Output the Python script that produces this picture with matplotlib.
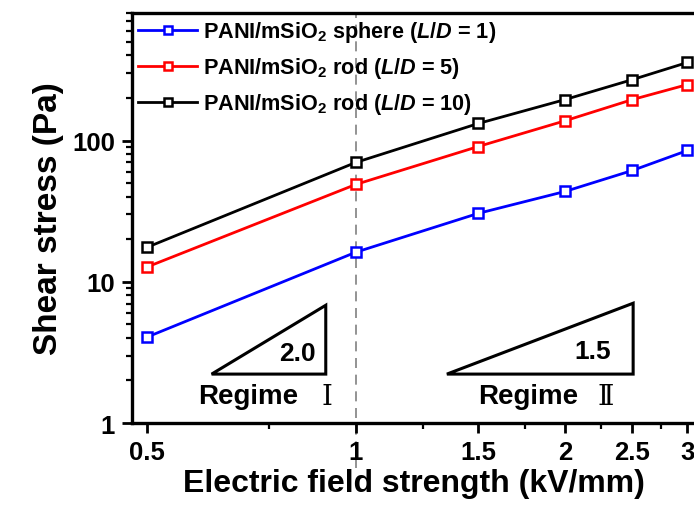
import matplotlib
matplotlib.use("Agg")
import matplotlib.pyplot as plt
from matplotlib.ticker import FixedLocator, NullFormatter, LogLocator
from matplotlib.patches import Polygon

plt.rcParams['font.family'] = ['Liberation Sans', 'Noto Sans CJK SC', 'DejaVu Sans']
plt.rcParams['font.weight'] = 'bold'
plt.rcParams['mathtext.fontset'] = 'custom'
plt.rcParams['mathtext.rm'] = 'Liberation Sans:bold'
plt.rcParams['mathtext.bf'] = 'Liberation Sans:bold'
plt.rcParams['mathtext.it'] = 'Liberation Sans:italic:bold'

# data
field = [0.5, 1.0, 1.5, 2.0, 2.5, 3.0]
sphere = [4.05, 16.2, 30.5, 43.6, 61.4, 85.0]
rod5 = [12.7, 48.9, 90.7, 138.0, 195.0, 249.0]
rod10 = [17.5, 70.0, 132.0, 195.0, 270.0, 357.0]

labels = [r"PANI/mSiO$_2$ sphere ($\mathit{L}$/$\mathit{D}$ = 1)",
          r"PANI/mSiO$_2$ rod ($\mathit{L}$/$\mathit{D}$ = 5)",
          r"PANI/mSiO$_2$ rod ($\mathit{L}$/$\mathit{D}$ = 10)"]
colors = ['#0000ff', '#ff0000', '#000000']

x_major = [0.5, 1, 1.5, 2, 2.5, 3]
x_major_labels = ['0.5', '1', '1.5', '2', '2.5', '3']
x_minor = [0.75, 1.25, 1.75, 2.25, 2.75]

fig = plt.figure(figsize=(6.94, 5.10), dpi=100)
ax = fig.add_axes([0.190, 0.1686, 0.812, 0.804])

for ys, c, lab in zip([sphere, rod5, rod10], colors, labels):
    ax.plot(field, ys, '-s', color=c, lw=2.0, ms=6.5, mfc='white',
            mec=c, mew=1.8, label=lab)

ax.set_xscale('log')
ax.set_yscale('log')
ax.set_xlim(0.476, 3.08)
ax.set_ylim(1, 800)

# regime boundary, runs down through the "1" tick label as in the original
ax.plot([1.0, 1.0], [-0.11, 1.0], transform=ax.get_xaxis_transform(),
        color='gray', ls=(0, (6, 4)), lw=1.2, zorder=0.5, clip_on=False)

ax.xaxis.set_major_locator(FixedLocator(x_major))
ax.xaxis.set_minor_locator(FixedLocator(x_minor))
ax.set_xticklabels(x_major_labels)
ax.xaxis.set_minor_formatter(NullFormatter())
ax.yaxis.set_minor_locator(LogLocator(base=10, subs=range(2, 10), numticks=10))
ax.yaxis.set_minor_formatter(NullFormatter())
ax.set_yticks([1, 10, 100])
ax.set_yticklabels(['1', '10', '100'])

ax.tick_params(which='major', direction='out', length=7, width=2.0,
               labelsize=18.5, top=False, right=False, pad=5)
ax.tick_params(which='minor', direction='out', length=4, width=1.6,
               top=False, right=False)
for s in ax.spines.values():
    s.set_linewidth(2.4)

ax.set_xlabel('Electric field strength (kV/mm)', fontsize=23, fontweight='bold', labelpad=3)
ax.set_ylabel('Shear stress (Pa)', fontsize=24, fontweight='bold', labelpad=6)

# slope triangles
tri1 = Polygon([(0.62, 2.22), (0.905, 2.22), (0.905, 6.82)], closed=True,
               fill=False, ec='black', lw=2.2)
tri2 = Polygon([(1.352, 2.22), (2.506, 2.22), (2.506, 7.05)], closed=True,
               fill=False, ec='black', lw=2.2)
ax.add_patch(tri1)
ax.add_patch(tri2)
ax.text(0.825, 3.12, '2.0', fontsize=19, fontweight='bold', ha='center', va='center')
ax.text(2.195, 3.22, '1.5', fontsize=19, fontweight='bold', ha='center', va='center')

ax.text(0.592, 1.55, 'Regime', fontsize=20, fontweight='bold', ha='left', va='center')
ax.text(0.91, 1.55, 'Ⅰ', fontsize=20, fontweight='normal', ha='center', va='center',
        family=['DejaVu Serif', 'Noto Sans CJK SC'])
ax.text(1.499, 1.55, 'Regime', fontsize=20, fontweight='bold', ha='left', va='center')
ax.text(2.29, 1.55, 'Ⅱ', fontsize=20, fontweight='normal', ha='center', va='center',
        family=['DejaVu Serif', 'Noto Sans CJK SC'])

ax.legend(loc='upper left', frameon=False, fontsize=15.6, handlelength=2.7,
          handletextpad=0.3, labelspacing=0.5, borderaxespad=0.2,
          borderpad=0.1, markerscale=0.85)

fig.savefig('out.png', dpi=100)
